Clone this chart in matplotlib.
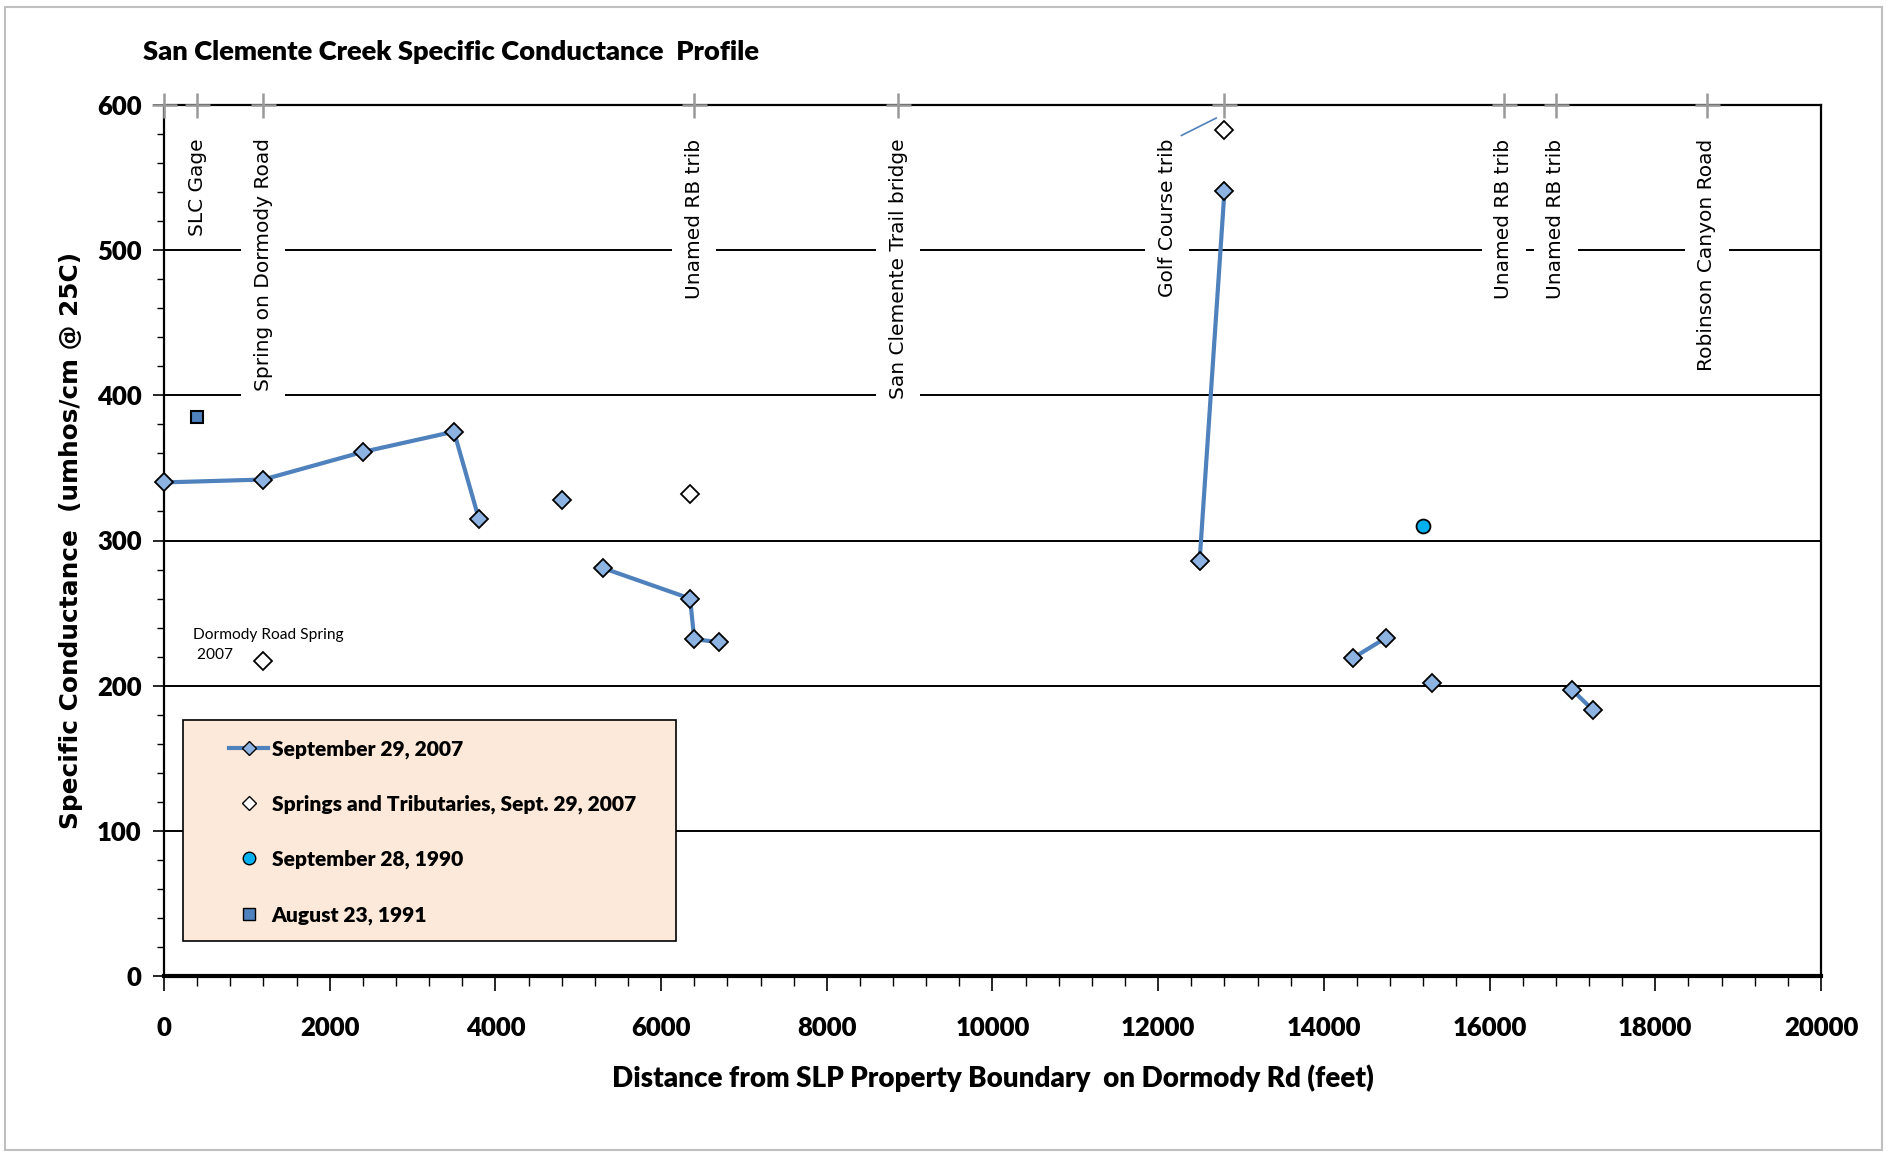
import numpy as np
import matplotlib.pyplot as plt
from matplotlib.patches import Rectangle
from matplotlib.lines import Line2D

nan = np.nan

# Sept 29, 2007 main-stem readings (nan = break in the line)
sep2007_x = [0, 1200, 2400, 3500, 3800, nan, 4800, nan, 5300, 6350, 6400, 6700, nan,
             12500, 12800, nan, 14350, 14750, nan, 15300, nan, 17000, 17250]
sep2007_y = [340, 342, 361, 375, 315, nan, 328, nan, 281, 260, 232, 230, nan,
             286, 541, nan, 219, 233, nan, 202, nan, 197, 183]

# springs and tributaries, Sept 29, 2007
springs_x = [1200, 6350, 12800]
springs_y = [217, 332, 583]

# historic readings
sep1990_x = [15200]
sep1990_y = [310]
aug1991_x = [400]
aug1991_y = [385]

# landmarks along the creek
site_x = [400, 1200, 6400, 8860, 12800, 16170, 16800, 18620]
site_names = ["SLC Gage", "Spring on Dormody Road", "Unamed RB trib",
              "San Clemente Trail bridge", "Golf Course trib", "Unamed RB trib",
              "Unamed RB trib", "Robinson Canyon Road"]

narrow = ['Lato', 'DejaVu Sans']
heavy = 'heavy'
line_blue = '#4F81BD'
marker_blue = '#8DB3E2'

fig = plt.figure(figsize=(18.9, 11.52), dpi=100)
ax = fig.add_axes([164/1890, 1-976/1152, (1821-164)/1890, (976-105)/1152])

# outer chart border
fig.patches.append(Rectangle((5/1890, 0.002), 1877/1890, 1-9/1152, transform=fig.transFigure,
                             fill=False, edgecolor='#BFBFBF', lw=1.5))

ax.set_xlim(0, 20000)
ax.set_ylim(0, 600)
ax.set_xticks(np.arange(0, 20001, 2000))
ax.set_xticks(np.arange(0, 20001, 400), minor=True)
ax.set_yticks(np.arange(0, 601, 100))
ax.set_yticks(np.arange(0, 601, 20), minor=True)
ax.yaxis.grid(True, which='major', color='black', lw=1.4, zorder=0)
ax.set_axisbelow(True)

for side in ['top', 'left', 'right']:
    ax.spines[side].set_linewidth(1.6)
ax.spines['bottom'].set_linewidth(3)

ax.tick_params(axis='y', which='major', length=8, width=1.2, direction='out', pad=8)
ax.tick_params(axis='y', which='minor', length=5, width=1.0, direction='out')
ax.tick_params(axis='x', which='major', length=11, width=1.2, direction='out', pad=18)
ax.tick_params(axis='x', which='minor', length=7, width=1.0, direction='out')
for lab in ax.get_xticklabels() + ax.get_yticklabels():
    lab.set_family(narrow)
    lab.set_fontweight(heavy)
    lab.set_fontsize(18.5)

# data series
ax.plot(sep2007_x, sep2007_y, color=line_blue, lw=3, marker='D', ms=9,
        mfc=marker_blue, mec='black', mew=1.3, zorder=4, clip_on=False)
ax.plot(springs_x, springs_y, ls='none', marker='D', ms=9,
        mfc='white', mec='black', mew=1.3, zorder=4)
ax.plot(sep1990_x, sep1990_y, ls='none', marker='o', ms=10,
        mfc='#00B0F0', mec='black', mew=1.3, zorder=4)
ax.plot(aug1991_x, aug1991_y, ls='none', marker='s', ms=8.5,
        mfc=line_blue, mec='black', mew=1.5, zorder=4)

# landmark markers on top edge and labels
ax.plot([0] + site_x, [600] * (len(site_x) + 1), ls='none', marker='+', ms=18,
        mew=1.8, color='#999999', clip_on=False, zorder=6)
label_dx = {4: -690}
for i, (sx, name) in enumerate(zip(site_x, site_names)):
    ax.text(sx + label_dx.get(i, 0), 577, name, rotation=90, ha='center', va='top',
            fontsize=14.5, family='DejaVu Sans', zorder=3,
            bbox=dict(facecolor='white', edgecolor='none', pad=9))
ax.plot([12280, 12700], [579, 591], color=line_blue, lw=1.2, zorder=3)

ax.text(349, 228, "Dormody Road Spring\n 2007", family=narrow, fontsize=11.2,
        ha='left', va='center', linespacing=1.5, zorder=4)

# legend box
ax.add_patch(Rectangle((0.0115, 0.040), 0.2975, 0.254, transform=ax.transAxes,
                       facecolor='#FDE9D9', edgecolor='black', lw=1.2, zorder=5))
handles = [
    Line2D([], [], color=line_blue, lw=3, marker='D', ms=7, mfc=marker_blue, mec='black', mew=1),
    Line2D([], [], ls='none', marker='D', ms=7, mfc='white', mec='black', mew=1),
    Line2D([], [], ls='none', marker='o', ms=9, mfc='#00B0F0', mec='black', mew=1),
    Line2D([], [], ls='none', marker='s', ms=8, mfc=line_blue, mec='black', mew=1),
]
labels = ["September 29, 2007", "Springs and Tributaries, Sept. 29, 2007",
          "September 28, 1990", "August 23, 1991"]
leg = ax.legend(handles, labels, loc='upper left', bbox_to_anchor=(0.039, 0.272),
                frameon=False, borderpad=0, borderaxespad=0, handlelength=1.9,
                handletextpad=0.15, labelspacing=1.71,
                prop={'family': narrow, 'weight': heavy, 'size': 15.1})
leg.set_zorder(6)

ax.set_xlabel("Distance from SLP Property Boundary  on Dormody Rd (feet)",
              family=narrow, fontweight=heavy, fontsize=20)
ax.xaxis.set_label_coords(0.5, -0.101)
ax.set_ylabel("Specific Conductance  (umhos/cm @ 25C)", family='DejaVu Sans',
              fontweight='bold', fontsize=17.8)
ax.yaxis.set_label_coords(-0.049, 0.5)

fig.text(143/1890, 1-60/1152, "San Clemente Creek Specific Conductance  Profile",
         family=narrow, fontweight=heavy, fontsize=19.7, ha='left', va='baseline')

fig.savefig('out.png', dpi=100)
